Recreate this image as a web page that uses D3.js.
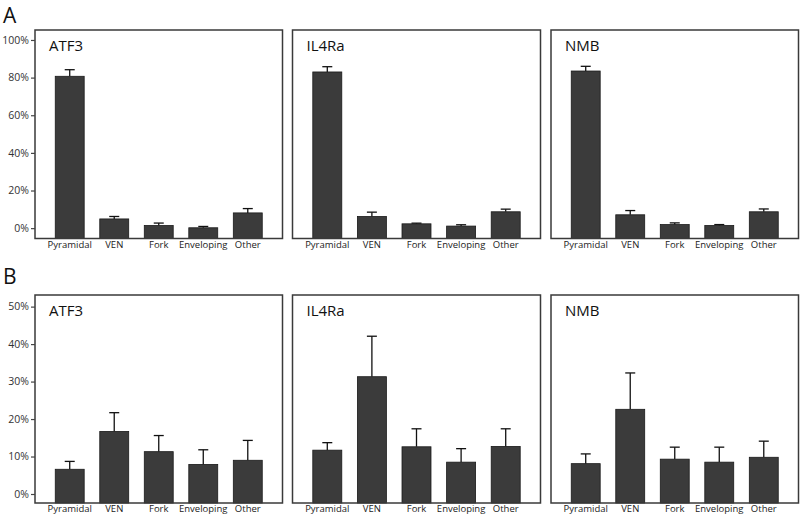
<!DOCTYPE html>
<html><head><meta charset="utf-8">
<script src="https://cdn.jsdelivr.net/npm/d3@7"></script>
<style>html,body{margin:0;padding:0;background:#fff;}svg{display:block;font-family:"Open Sans","Noto Sans",sans-serif;}</style>
</head><body>
<script>
const categories = ["Pyramidal","VEN","Fork","Enveloping","Other"];
const genes = ["ATF3","IL4Ra","NMB"];

// Row A values (%) and upper error
const atf3A = [80.7, 4.9, 1.4, 0.2, 8.1];
const atf3AErr = [3.5, 1.3, 1.3, 0.7, 2.3];
const il4raA = [83.0, 6.2, 2.3, 1.1, 8.7];
const il4raAErr = [2.8, 2.3, 0.35, 0.7, 1.4];
const nmbA = [83.5, 7.1, 1.9, 1.4, 8.7];
const nmbAErr = [2.5, 2.25, 0.9, 0.5, 1.5];

// Row B values (%) and upper error
const atf3B = [6.6, 16.7, 11.3, 7.9, 9.0];
const atf3BErr = [2.1, 5.0, 4.3, 3.9, 5.3];
const il4raB = [11.7, 31.3, 12.6, 8.5, 12.7];
const il4raBErr = [2.0, 10.8, 4.8, 3.6, 4.7];
const nmbB = [8.1, 22.6, 9.3, 8.5, 9.8];
const nmbBErr = [2.6, 9.7, 3.2, 4.0, 4.3];

const ticksA = [0, 20, 40, 60, 80, 100];
const ticksB = [0, 10, 20, 30, 40, 50];
const rowLabels = ["A", "B"];

const W = 800, H = 519;
const svg = d3.select("body").append("svg").attr("width", W).attr("height", H);

const panelX = [[35, 282.5], [292.5, 540.5], [551, 798.5]];
const rows = [
  {top: 30, bottom: 238.5, domain: [-5.5, 105.3], ticks: ticksA,
   vals: [atf3A, il4raA, nmbA], errs: [atf3AErr, il4raAErr, nmbAErr], labelY: 23, xlabY: 253},
  {top: 295, bottom: 503, domain: [-2.4, 53.1], ticks: ticksB,
   vals: [atf3B, il4raB, nmbB], errs: [atf3BErr, il4raBErr, nmbBErr], labelY: 284, xlabY: 517}
];

const dark = "#3b3b3b";

rows.forEach((row, ri) => {
  svg.append("text").attr("x", 3).attr("y", row.labelY)
    .attr("font-size", 21).attr("fill", "#111").text(rowLabels[ri]);

  const y = d3.scaleLinear().domain(row.domain).range([row.bottom, row.top]);

  genes.forEach((g, gi) => {
    const [x0, x1] = panelX[gi];
    const x = d3.scaleBand().domain(categories).range([x0, x1])
      .paddingInner(0.35).paddingOuter(0.455);
    const gp = svg.append("g");

    const vals = row.vals[gi], errs = row.errs[gi];
    // error bars
    categories.forEach((c, i) => {
      const cx = x(c) + x.bandwidth() / 2;
      gp.append("line").attr("x1", cx).attr("x2", cx)
        .attr("y1", y(vals[i])).attr("y2", y(vals[i] + errs[i]))
        .attr("stroke", "#111").attr("stroke-width", 1.3);
      gp.append("line").attr("x1", cx - 5).attr("x2", cx + 5)
        .attr("y1", y(vals[i] + errs[i])).attr("y2", y(vals[i] + errs[i]))
        .attr("stroke", "#111").attr("stroke-width", 1.3);
    });
    // bars
    gp.selectAll("rect.bar").data(categories).enter().append("rect")
      .attr("class", "bar")
      .attr("x", c => x(c))
      .attr("width", x.bandwidth())
      .attr("y", (c, i) => y(vals[i]))
      .attr("height", (c, i) => y(row.domain[0]) - y(vals[i]))
      .attr("fill", dark).attr("stroke", "#1a1a1a").attr("stroke-width", 0.8);

    // panel frame
    gp.append("rect").attr("x", x0).attr("y", row.top)
      .attr("width", x1 - x0).attr("height", row.bottom - row.top)
      .attr("fill", "none").attr("stroke", "#3a3a3a").attr("stroke-width", 1.5);

    // title
    gp.append("text").attr("x", x0 + 14).attr("y", row.top + 21)
      .attr("font-size", 15).attr("fill", "#111").text(g);

    // x labels
    const xa = d3.axisBottom(x).tickSize(0).tickPadding(0);
    const xg = gp.append("g").attr("transform", `translate(0,${row.xlabY - 7})`).call(xa);
    xg.select(".domain").remove();
    xg.selectAll("text").attr("font-size", 9.5).attr("fill", "#222")
      .attr("font-family", "'Open Sans','Noto Sans',sans-serif").attr("dy", "0.2em");

    if (gi === 0) {
      const ya = d3.axisLeft(y).tickValues(row.ticks).tickSize(4).tickPadding(2)
        .tickFormat(d => d + "%");
      const yg = gp.append("g").attr("transform", `translate(${x0},0)`).call(ya);
      yg.select(".domain").remove();
      yg.selectAll("line").attr("stroke", "#444").attr("stroke-width", 1.2);
      yg.selectAll("text").attr("font-size", 10.5).attr("fill", "#333")
        .attr("font-family", "'Open Sans','Noto Sans',sans-serif");
    }
  });
});
</script>
</body></html>
